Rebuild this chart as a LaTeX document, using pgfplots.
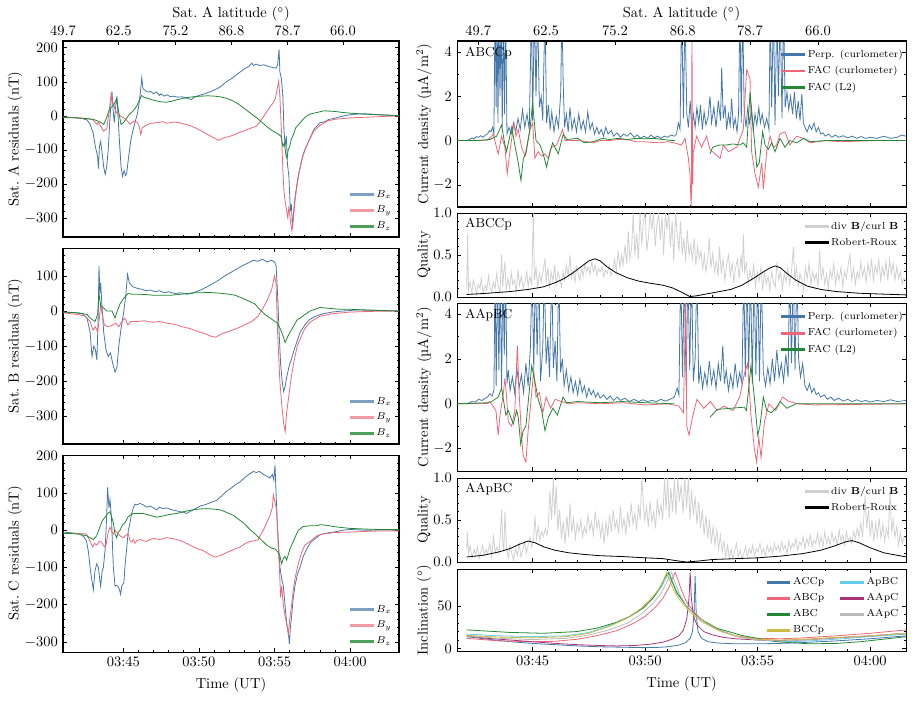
\documentclass[border=0pt]{standalone}
\usepackage{pgfplots}
\pgfplotsset{compat=1.18}
\definecolor{cB}{HTML}{4477AA}
\definecolor{cR}{HTML}{EE6677}
\definecolor{cG}{HTML}{228833}
\definecolor{cY}{HTML}{CCBB44}
\definecolor{cC}{HTML}{66CCEE}
\definecolor{cP}{HTML}{AA3377}
\definecolor{cK}{HTML}{BBBBBB}
\definecolor{cQ}{HTML}{D0D0D0}
\definecolor{lB}{HTML}{7C9FC4}
\definecolor{lR}{HTML}{F39AA4}
\definecolor{lG}{HTML}{4E9E5C}
\pgfplotsset{
 base/.style={scale only axis, anchor=north west, tick align=inside,
   major tick length=3pt, minor tick length=1.5pt,
   tick style={black, line width=0.45pt},
   axis line style={black, line width=0.7pt},
   unbounded coords=jump, minor x tick num=4,
   legend style={draw=none, fill=none, font=\scriptsize, row sep=0.6pt},
   legend cell align=left,
   every axis plot/.append style={line width=0.55pt, forget plot}},
 leftcol/.style={base, width=231.84pt, height=135.24pt, xmin=41.01, xmax=63.23,
   xtick={45,50,55,60}, xticklabels={03:45,03:50,03:55,04:00},
   ytick={-300,-200,-100,0,100,200}, minor y tick num=4,
   ylabel style={at={(axis description cs:-0.143,0.5)}, anchor=center},
   legend style={at={(1.0,0.0)}, anchor=south east}},
 rightcol/.style={base, width=309.81pt, xmin=41.64, xmax=61.59,
   xtick={45,50,55,60}, xticklabels={03:45,03:50,03:55,04:00},
   ylabel style={at={(axis description cs:-0.0735,0.5)}, anchor=center}},
 nox/.style={xticklabels={}},
 topax/.style={base, xtick pos=upper, xticklabel pos=upper, minor x tick num=0, ymin=0, ymax=1, hide y axis,
   xlabel={Sat.~A latitude (${}^\circ$)},
   xlabel style={at={(axis description cs:0.5,1)}, anchor=center, yshift=18.5pt}},
 cdax/.style={rightcol, ymin=-3, ymax=4.5, ytick={-2,0,2,4}, minor y tick num=1,
   ylabel={Current density (µA/m$^2$)},
   legend style={at={(1.01,0.985)}, anchor=north east}},
 qax/.style={rightcol, height=57.96pt, ymin=0, ymax=1, ytick={0,0.5,1}, minor y tick num=4,
   yticklabel style={/pgf/number format/.cd, fixed, fixed zerofill, precision=1},
   ylabel={Quality}, legend style={at={(1.0,0.97)}, anchor=north east}},
}
\newcommand{\limg}[1]{\addlegendimage{legend image code/.code={\fill[#1] (0cm,-0.65pt) rectangle (0.55cm,0.65pt);}}}
\newcommand{\leftlegend}{%
  \limg{lB}\addlegendentry{$B_x$}
  \limg{lR}\addlegendentry{$B_y$}
  \limg{lG}\addlegendentry{$B_z$}}
\newcommand{\cdlegend}{%
  \limg{cB}\addlegendentry{Perp. (curlometer)}
  \limg{cR}\addlegendentry{FAC (curlometer)}
  \limg{cG}\addlegendentry{FAC (L2)}}
\newcommand{\qlegend}{%
  \limg{cQ}\addlegendentry{div $\mathbf{B}$/curl $\mathbf{B}$}
  \limg{black}\addlegendentry{Robert-Roux}}
\begin{document}
\begin{tikzpicture}
\path[use as bounding box] (0pt,0pt) rectangle (630.66pt,-493.35pt);

% ---------------- Panel A ----------------
\begin{axis}[leftcol, nox, xtick pos=lower, at={(43.47pt,-28.29pt)}, ymin=-356, ymax=220,
  ylabel={Sat.~A residuals (nT)}]
\addplot[cB] coordinates {(41.01,-3) (41.5,-4) (42.0,-6) (42.3,-8) (42.6,-12) (42.8,-25) (43.0,-50) (43.15,-90) (43.3,-120) (43.35,-155) (43.42,-90) (43.5,-75) (43.6,-110) (43.7,-150) (43.8,-172) (43.9,-150) (44.0,-100) (44.1,-20) (44.2,50) (44.25,72) (44.32,20) (44.4,-20) (44.5,30) (44.58,58) (44.65,0) (44.75,-80) (44.85,-150) (44.95,-178) (45.05,-160) (45.15,-175) (45.22,-170) (45.35,-120) (45.5,-70) (45.65,-40) (45.8,-15) (45.95,10) (46.05,40) (46.15,80) (46.22,112) (46.3,80) (46.45,75) (46.6,70) (46.8,72) (47.0,65) (47.2,70) (47.4,60) (47.5,65) (47.7,58) (47.9,62) (48.1,56) (48.3,58) (48.6,55) (48.9,56) (49.2,52) (49.5,48) (49.7,55) (50.0,60) (50.4,65) (50.8,72) (51.2,80) (51.5,88) (51.8,100) (52.1,108) (52.4,118) (52.7,128) (53.0,138) (53.3,145) (53.5,155) (53.6,148) (53.8,152) (54.0,148) (54.3,150) (54.6,145) (54.9,142) (55.1,140) (55.2,150) (55.3,195) (55.35,130) (55.45,110) (55.55,60) (55.62,-40) (55.7,-90) (55.78,-60) (55.85,-140) (55.95,-180) (56.05,-280) (56.12,-260) (56.18,-330) (56.25,-290) (56.35,-240) (56.45,-210) (56.55,-180) (56.7,-150) (56.85,-120) (57.0,-100) (57.2,-80) (57.4,-60) (57.6,-40) (57.8,-30) (58.0,-20) (58.3,-18) (58.6,-10) (58.9,-8) (59.3,-3) (59.8,2) (60.3,5) (61.0,6) (61.8,4) (62.5,2) (63.23,0)};
\addplot[cR] coordinates {(41.01,-4) (42.0,-6) (42.6,-8) (43.0,-12) (43.25,-25) (43.35,-18) (43.5,-30) (43.7,-45) (43.9,-38) (44.05,10) (44.2,65) (44.3,40) (44.45,20) (44.6,5) (44.8,0) (45.0,-5) (45.2,-12) (45.45,-25) (45.7,-15) (45.9,-18) (46.05,-30) (46.15,-55) (46.25,-35) (46.5,-28) (46.8,-22) (47.2,-20) (47.6,-17) (47.9,-22) (48.3,-18) (48.7,-20) (49.1,-25) (49.5,-30) (49.9,-38) (50.3,-48) (50.7,-58) (51.0,-65) (51.3,-72) (51.6,-65) (51.9,-62) (52.3,-56) (52.7,-48) (53.1,-42) (53.5,-35) (53.8,-30) (54.0,-20) (54.3,0) (54.6,20) (54.85,35) (55.05,50) (55.2,85) (55.27,102) (55.35,60) (55.45,-40) (55.55,-160) (55.62,-220) (55.7,-250) (55.8,-280) (55.88,-300) (55.95,-265) (56.05,-310) (56.15,-338) (56.25,-300) (56.35,-250) (56.5,-200) (56.65,-160) (56.8,-130) (57.0,-100) (57.3,-70) (57.6,-45) (58.0,-28) (58.5,-15) (59.0,-10) (60.0,-6) (61.0,-4) (62.0,-2) (63.23,0)};
\addplot[cG] coordinates {(41.01,-5) (42.0,-6) (42.6,-8) (43.0,-10) (43.3,-15) (43.55,-20) (43.7,-25) (43.85,-10) (44.05,15) (44.2,25) (44.35,30) (44.55,50) (44.7,10) (44.85,-25) (45.0,-20) (45.2,-8) (45.4,5) (45.55,10) (45.75,20) (45.9,30) (46.05,45) (46.2,60) (46.35,55) (46.6,52) (47.0,46) (47.4,42) (47.8,40) (48.2,43) (48.6,48) (49.0,52) (49.4,55) (49.8,57) (50.2,58) (50.6,59) (51.0,58) (51.4,56) (51.8,52) (52.2,45) (52.6,35) (53.0,22) (53.4,8) (53.8,-5) (54.2,-20) (54.5,-32) (54.8,-42) (55.1,-50) (55.3,-55) (55.45,-62) (55.55,-90) (55.65,-80) (55.75,-115) (55.82,-125) (55.9,-100) (56.0,-90) (56.1,-70) (56.25,-55) (56.4,-35) (56.6,-25) (56.8,-15) (57.0,-5) (57.3,5) (57.6,8) (58.0,12) (58.3,15) (58.6,14) (59.0,13) (59.5,10) (60.0,8) (61.0,5) (62.0,3) (63.23,1)};
\leftlegend
\end{axis}
\begin{axis}[topax, width=231.84pt, height=135.24pt, at={(43.47pt,-28.29pt)}, xmin=41.01, xmax=63.23,
  xtick={41.01,44.69,48.45,52.16,55.85,59.52}, xticklabels={49.7,62.5,75.2,86.8,78.7,66.0}]
\addplot[draw=none] coordinates {(45,0.5) (50,0.5)};
\end{axis}

% ---------------- Panel B ----------------
\begin{axis}[leftcol, nox, at={(43.47pt,-171.12pt)}, ymin=-380, ymax=180,
  ylabel={Sat.~B residuals (nT)}]
\addplot[cB] coordinates {(41.01,-3) (41.8,-5) (42.3,-8) (42.6,-20) (42.8,-60) (42.93,-130) (43.05,-100) (43.15,-110) (43.25,-140) (43.33,-30) (43.39,128) (43.45,50) (43.5,80) (43.58,20) (43.7,-60) (43.85,-110) (44.0,-130) (44.15,-120) (44.3,-150) (44.45,-175) (44.58,-160) (44.7,-100) (44.85,-50) (45.0,-10) (45.15,40) (45.28,105) (45.4,80) (45.6,70) (45.9,65) (46.2,62) (46.5,58) (46.8,60) (47.1,55) (47.4,58) (47.7,52) (48.0,55) (48.4,50) (48.8,52) (49.2,48) (49.5,50) (49.8,55) (50.1,60) (50.5,68) (50.9,78) (51.3,88) (51.7,100) (52.1,110) (52.5,120) (52.9,130) (53.3,138) (53.6,145) (53.9,142) (54.2,148) (54.5,140) (54.8,145) (55.0,140) (55.1,130) (55.2,50) (55.3,-60) (55.4,-150) (55.5,-200) (55.6,-230) (55.7,-215) (55.8,-190) (55.95,-160) (56.1,-140) (56.3,-110) (56.5,-85) (56.7,-60) (57.0,-40) (57.3,-25) (57.7,-15) (58.2,-8) (58.8,-3) (59.5,0) (60.5,3) (61.5,2) (63.23,0)};
\addplot[cR] coordinates {(41.01,-5) (42.0,-10) (42.5,-15) (42.8,-30) (43.0,-55) (43.15,-45) (43.3,-60) (43.42,-20) (43.5,20) (43.6,-10) (43.75,-40) (44.0,-45) (44.3,-40) (44.5,-35) (44.7,-45) (44.9,-30) (45.1,-20) (45.3,-40) (45.5,-30) (45.9,-30) (46.4,-28) (46.9,-32) (47.4,-30) (47.9,-35) (48.4,-38) (48.9,-45) (49.4,-50) (49.9,-58) (50.4,-65) (50.8,-72) (51.1,-75) (51.5,-65) (52.0,-58) (52.5,-50) (53.0,-40) (53.5,-30) (53.9,-15) (54.2,5) (54.5,30) (54.8,60) (55.0,100) (55.1,80) (55.2,-60) (55.35,-200) (55.5,-280) (55.6,-320) (55.7,-345) (55.8,-290) (55.95,-240) (56.1,-190) (56.3,-140) (56.5,-100) (56.8,-70) (57.0,-50) (57.4,-30) (58.0,-15) (58.8,-8) (60.0,-3) (61.5,-1) (63.23,0)};
\addplot[cG] coordinates {(41.01,-3) (42.0,-5) (42.6,-10) (42.8,-20) (43.13,-30) (43.3,-10) (43.39,50) (43.5,15) (43.66,10) (43.9,0) (44.25,0) (44.45,-20) (44.6,0) (44.78,20) (45.0,35) (45.31,50) (45.6,48) (46.0,48) (46.5,47) (47.0,45) (47.5,45) (48.1,45) (48.6,47) (49.2,50) (49.7,52) (50.1,52) (50.6,53) (51.06,52) (51.6,50) (52.0,48) (52.39,45) (52.8,38) (53.3,28) (53.71,20) (54.0,5) (54.37,-10) (54.7,-20) (55.03,-30) (55.2,-35) (55.37,-50) (55.55,-70) (55.7,-90) (55.85,-75) (56.03,-60) (56.3,-40) (56.5,-25) (56.7,-20) (57.0,-10) (57.35,0) (58.0,10) (58.5,8) (59.3,5) (60.0,5) (61.0,3) (63.23,0)};
\leftlegend
\end{axis}

% ---------------- Panel C ----------------
\begin{axis}[leftcol, at={(43.47pt,-313.95pt)}, height=135.93pt, ymin=-327, ymax=202,
  ylabel={Sat.~C residuals (nT)}, xlabel={Time (UT)}]
\addplot[cB] coordinates {(41.03,-5) (41.8,-8) (42.13,-10) (42.4,-18) (42.57,-30) (42.7,-60) (42.8,-100) (42.9,-130) (43.02,-160) (43.12,-110) (43.24,-90) (43.35,-100) (43.45,-135) (43.5,-150) (43.6,-110) (43.68,-100) (43.8,-50) (43.9,40) (43.96,115) (44.05,60) (44.12,82) (44.2,40) (44.23,20) (44.3,-60) (44.34,-100) (44.45,-150) (44.56,-148) (44.67,-152) (44.75,-160) (44.82,-172) (44.9,-150) (45.04,-140) (45.12,-90) (45.22,-50) (45.33,0) (45.44,20) (45.55,45) (45.66,60) (45.77,70) (45.88,68) (46.1,72) (46.32,68) (46.54,62) (46.76,65) (47.0,60) (47.2,55) (47.4,62) (47.6,58) (47.87,60) (48.2,55) (48.53,52) (48.75,50) (49.0,48) (49.19,45) (49.4,50) (49.63,55) (49.85,60) (50.1,65) (50.51,70) (50.8,75) (51.17,80) (51.5,92) (51.83,105) (52.1,112) (52.4,122) (52.72,130) (53.0,140) (53.3,150) (53.6,158) (53.8,155) (54.0,158) (54.26,150) (54.5,145) (54.7,140) (54.85,150) (54.95,135) (55.03,175) (55.1,100) (55.18,20) (55.25,-30) (55.36,-100) (55.47,-130) (55.58,-150) (55.69,-200) (55.8,-250) (55.9,-270) (55.98,-305) (56.05,-260) (56.13,-230) (56.24,-180) (56.35,-150) (56.5,-120) (56.68,-100) (56.9,-70) (57.13,-50) (57.35,-35) (57.6,-25) (57.79,-20) (58.0,-12) (58.4,-8) (58.89,-5) (59.5,0) (60.0,2) (61.09,0) (62.0,1) (63.23,0)};
\addplot[cR] coordinates {(41.03,-8) (42.0,-9) (42.57,-10) (42.75,-25) (42.97,-45) (43.1,-35) (43.24,-40) (43.4,-30) (43.57,-32) (43.75,-45) (43.85,-40) (44.0,-5) (44.12,8) (44.25,-5) (44.34,-10) (44.45,0) (44.56,-5) (44.78,-15) (45.0,-20) (45.2,-12) (45.33,-10) (45.44,-28) (45.55,-32) (45.66,-25) (45.77,-35) (45.9,-28) (46.1,-25) (46.32,-28) (46.54,-30) (46.76,-25) (47.0,-22) (47.4,-25) (47.87,-20) (48.2,-22) (48.53,-25) (48.9,-30) (49.41,-40) (49.8,-48) (50.29,-55) (50.7,-65) (51.06,-72) (51.4,-68) (51.83,-60) (52.28,-52) (52.72,-45) (53.1,-35) (53.38,-30) (53.7,-28) (53.93,-25) (54.1,-10) (54.26,0) (54.48,20) (54.7,40) (54.85,60) (54.92,95) (55.03,75) (55.14,55) (55.25,-50) (55.32,-100) (55.4,-180) (55.47,-150) (55.58,-200) (55.69,-230) (55.8,-250) (55.91,-280) (56.0,-240) (56.13,-200) (56.24,-160) (56.35,-130) (56.57,-90) (56.79,-60) (57.0,-40) (57.35,-30) (57.8,-15) (58.23,-10) (59.0,-6) (59.99,-5) (61.09,-3) (62.0,-2) (63.23,-2)};
\addplot[cG] coordinates {(41.03,-8) (42.0,-10) (42.57,-15) (43.02,-25) (43.24,-15) (43.46,10) (43.6,25) (43.79,35) (43.96,45) (44.12,50) (44.23,35) (44.34,20) (44.45,-10) (44.56,-20) (44.67,-5) (44.78,0) (44.95,15) (45.11,20) (45.3,35) (45.44,40) (45.66,45) (46.0,45) (46.32,45) (46.76,40) (47.2,35) (47.6,38) (48.0,42) (48.53,45) (49.0,50) (49.63,55) (50.0,57) (50.51,58) (50.9,57) (51.39,55) (51.83,48) (52.28,40) (52.6,30) (52.94,20) (53.3,5) (53.71,-10) (54.1,-25) (54.48,-40) (54.8,-48) (55.03,-50) (55.25,-60) (55.36,-70) (55.47,-90) (55.58,-75) (55.69,-70) (55.8,-80) (56.02,-50) (56.24,-30) (56.4,-15) (56.57,0) (56.9,10) (57.35,12) (57.79,12) (58.0,15) (58.5,13) (58.89,10) (59.5,7) (59.99,5) (61.09,3) (62.0,2) (63.23,2)};
\leftlegend
\end{axis}

% ---------------- CD1 ----------------
\begin{axis}[cdax, nox, xtick pos=lower, at={(315.33pt,-28.29pt)}, height=114.54pt]
\addplot[cB] coordinates {(42.07,0) (42.2,0.05) (42.3,0.12) (42.4,0.08) (42.5,0.18) (42.6,0.15) (42.7,0.22) (42.8,0.15) (42.9,0.25) (43.0,0.3) (43.08,0.45) (43.15,0.4) (43.22,0.6) (43.28,0.3) (43.33,6) (43.38,1.5) (43.42,6) (43.46,0.8) (43.5,6) (43.55,2) (43.6,6) (43.65,0.6) (43.7,6) (43.75,1.2) (43.8,6) (43.86,0.3) (43.95,0.6) (44.05,0.3) (44.15,0.8) (44.25,0.4) (44.35,1.0) (44.45,0.5) (44.55,1.4) (44.65,0.6) (44.75,1.2) (44.85,0.5) (44.95,6) (45.0,0.9) (45.08,6) (45.15,2.0) (45.22,6) (45.3,1.5) (45.38,2.0) (45.45,0.9) (45.55,6) (45.62,0.8) (45.7,1.6) (45.78,0.5) (45.85,1.3) (45.95,0.4) (46.05,1.1) (46.15,0.6) (46.25,2.2) (46.3,6) (46.36,2.5) (46.42,0.6) (46.5,1.2) (46.58,0.4) (46.66,1.5) (46.75,0.5) (46.85,1.0) (46.95,0.4) (47.05,1.2) (47.15,0.5) (47.25,0.9) (47.35,0.4) (47.45,1.3) (47.55,0.5) (47.65,0.8) (47.75,0.3) (47.85,0.6) (47.95,0.3) (48.05,0.5) (48.15,0.2) (48.25,0.6) (48.35,0.3) (48.5,0.45) (48.6,0.2) (48.75,0.35) (48.9,0.15) (49.05,0.3) (49.2,0.2) (49.35,0.35) (49.5,0.15) (49.65,0.25) (49.8,0.1) (49.95,0.2) (50.1,0.1) (50.25,0.25) (50.4,0.12) (50.55,0.2) (50.7,0.1) (50.85,0.2) (51.0,0.15) (51.15,0.25) (51.3,0.2) (51.4,0.3) (51.47,0.8) (51.55,0.5) (51.62,6) (51.7,1.0) (51.77,6) (51.85,1.2) (51.92,0.6) (52.0,1.8) (52.07,0.5) (52.14,1.2) (52.22,0.6) (52.3,1.5) (52.38,0.8) (52.46,1.6) (52.54,0.5) (52.62,1.3) (52.7,0.7) (52.8,1.1) (52.88,2.0) (52.95,0.8) (53.05,1.5) (53.15,0.6) (53.25,1.8) (53.35,0.9) (53.4,3.3) (53.47,1.0) (53.55,1.6) (53.62,0.5) (53.7,1.2) (53.78,0.7) (53.84,1.9) (53.92,0.6) (54.0,1.0) (54.08,0.4) (54.15,1.2) (54.21,6) (54.27,0.8) (54.33,6) (54.4,1.4) (54.48,0.6) (54.56,1.5) (54.64,0.8) (54.72,1.3) (54.8,0.5) (54.88,1.2) (54.96,0.7) (55.05,1.5) (55.12,0.8) (55.2,1.2) (55.3,0.6) (55.4,1.0) (55.5,0.5) (55.56,6) (55.62,1.5) (55.7,6) (55.77,0.7) (55.85,6) (55.92,2.0) (56.0,6) (56.08,1.0) (56.15,6) (56.22,1.5) (56.3,2.2) (56.38,1.4) (56.46,2.0) (56.55,1.2) (56.63,2.2) (56.72,1.0) (56.8,1.8) (56.88,0.9) (56.96,2.1) (57.03,0.8) (57.1,0.6) (57.2,0.4) (57.3,0.7) (57.4,0.5) (57.5,0.8) (57.6,0.4) (57.7,0.6) (57.8,0.3) (57.9,0.35) (58.0,0.2) (58.15,0.3) (58.3,0.15) (58.45,0.25) (58.6,0.15) (58.8,0.22) (59.0,0.12) (59.2,0.2) (59.4,0.1) (59.6,0.18) (59.8,0.1) (60.0,0.15) (60.3,0.1) (60.6,0.2) (60.9,0.1) (61.2,0.15) (61.4,0.25) (61.59,0.2)};
\addplot[cR] coordinates {(41.64,0) (42.5,0) (43.0,0.02) (43.18,0.2) (43.25,0.3) (43.37,-0.2) (43.47,-0.6) (43.62,0.2) (43.77,-0.3) (43.87,-1.5) (43.99,-0.5) (44.17,0.8) (44.26,0.2) (44.36,0.5) (44.51,-0.3) (44.66,-0.7) (44.88,0.5) (45.0,0.8) (45.1,-0.8) (45.25,-0.5) (45.4,-0.7) (45.55,-0.6) (45.7,-0.8) (45.84,-0.3) (46.07,-0.2) (46.33,0.5) (46.44,0.0) (46.8,0.0) (47.1,0.0) (47.4,-0.05) (47.7,-0.1) (48.0,0.0) (48.44,0.0) (48.8,0.05) (49.18,0.05) (49.6,-0.05) (49.92,-0.05) (50.3,-0.08) (50.66,-0.1) (51.0,-0.05) (51.28,-0.1) (51.62,-0.2) (51.77,0.1) (51.92,-0.8) (51.99,-1.5) (52.05,-3.2) (52.08,4.8) (52.11,-2.0) (52.14,-0.5) (52.29,0.2) (52.5,-0.3) (52.73,0.2) (52.88,-0.4) (53.1,-0.6) (53.33,-0.8) (53.47,-0.2) (53.7,-0.5) (54.07,-0.3) (54.36,0.5) (54.51,3.2) (54.66,2.8) (54.73,-0.5) (54.88,-1.5) (55.03,-2.1) (55.18,-1.0) (55.25,-2.2) (55.4,-0.5) (55.55,0.2) (55.7,-0.3) (55.84,-0.2) (55.99,0.3) (56.21,0.4) (56.43,-0.2) (56.73,0.2) (57.03,0.1) (57.33,-0.1) (58.0,0.0) (58.7,-0.05) (60.2,0.0) (61.59,0)};
\addplot[cG] coordinates {(41.64,0) (42.5,0) (43.1,0.05) (43.4,0.2) (43.62,0.7) (43.77,-0.2) (43.84,-0.5) (44.07,0.6) (44.21,-0.2) (44.36,-1.0) (44.48,-1.8) (44.59,-0.8) (44.7,-0.6) (44.88,0.5) (45.0,1.7) (45.15,0.0) (45.33,-0.2) (45.47,-0.6) (45.62,-1.2) (45.77,-0.5) (45.89,-0.1) (45.99,-0.3) (46.14,-0.6) (46.36,0.3) (46.51,0.05) (47.0,0.1) (47.3,-0.1) (47.7,-0.05) (48.1,0.1) (48.4,0.05) (48.8,0.1) (49.2,0.05) (49.6,0.1) (50.0,0.08) (50.4,0.1) (50.8,0.05) (51.2,0.0) (51.33,0.0) (51.5,nan) (52.88,-0.6) (53.0,-0.3) (53.3,-0.2) (53.6,-0.2) (53.9,-0.15) (54.2,-0.2) (54.36,-0.1) (54.51,-0.3) (54.66,2.2) (54.81,0.5) (54.96,-1.2) (55.07,-1.0) (55.22,0.4) (55.33,-0.2) (55.47,-0.4) (55.62,-0.1) (55.77,-0.5) (55.99,0.1) (56.21,-0.3) (56.43,0.0) (56.73,-0.1) (57.03,0.1) (57.33,-0.05) (58.0,0.0) (61.59,0)};
\cdlegend
\node[anchor=north west, font=\small, inner sep=1pt] at (rel axis cs:0.015,0.975) {ABCCp};
\end{axis}
\begin{axis}[topax, width=309.81pt, height=114.54pt, at={(315.33pt,-28.29pt)}, xmin=41.64, xmax=61.59,
  xtick={42.58,45.59,48.66,51.67,54.66,57.68}, xticklabels={49.7,62.5,75.2,86.8,78.7,66.0}]
\addplot[draw=none] coordinates {(45,0.5) (50,0.5)};
\end{axis}

% ---------------- Q1 ----------------
\begin{axis}[qax, nox, at={(315.33pt,-146.97pt)}]
\addplot[cQ] coordinates {(42.07,0.1) (42.11,0.75) (42.15,0.08) (42.22,0.18) (42.3,0.04) (42.36,0.2) (42.45,0.12) (42.5,0.03) (42.58,0.15) (42.66,0.1) (42.72,0.22) (42.8,0.05) (42.9,0.14) (42.96,0.08) (43.04,0.25) (43.1,0.12) (43.18,0.06) (43.25,0.18) (43.33,0.1) (43.4,0.28) (43.48,0.12) (43.55,0.05) (43.62,0.5) (43.67,0.12) (43.72,0.3) (43.77,0.42) (43.82,0.08) (43.9,0.22) (43.98,0.1) (44.05,0.3) (44.12,0.15) (44.2,0.2) (44.27,0.06) (44.35,0.32) (44.42,0.14) (44.5,0.25) (44.58,0.1) (44.66,0.18) (44.74,0.3) (44.8,0.12) (44.88,0.24) (44.96,0.15) (45.03,1.0) (45.08,0.2) (45.15,0.35) (45.22,0.12) (45.3,0.28) (45.38,0.18) (45.46,0.3) (45.55,0.46) (45.6,0.18) (45.68,0.35) (45.75,0.1) (45.82,0.3) (45.9,0.2) (45.98,0.38) (46.05,0.15) (46.12,0.3) (46.2,0.22) (46.28,0.12) (46.35,0.3) (46.42,0.2) (46.5,0.38) (46.58,0.25) (46.66,0.5) (46.72,0.22) (46.8,0.32) (46.88,0.18) (46.95,0.36) (47.02,0.28) (47.1,0.2) (47.18,0.34) (47.25,0.25) (47.33,0.4) (47.4,0.3) (47.48,0.36) (47.55,0.27) (47.63,0.42) (47.7,0.3) (47.78,0.38) (47.85,0.26) (47.92,0.34) (48.0,0.3) (48.08,0.36) (48.16,0.24) (48.24,0.32) (48.32,0.28) (48.4,0.38) (48.48,0.25) (48.56,0.33) (48.64,0.45) (48.72,0.3) (48.8,0.55) (48.88,0.35) (48.95,0.5) (49.02,0.38) (49.1,0.62) (49.18,0.4) (49.25,0.78) (49.32,0.45) (49.4,0.58) (49.47,1.0) (49.54,0.5) (49.62,0.75) (49.7,0.45) (49.77,1.0) (49.85,0.62) (49.92,0.9) (50.0,1.0) (50.07,0.55) (50.15,0.72) (50.22,1.0) (50.3,0.8) (50.37,1.0) (50.45,0.6) (50.52,0.85) (50.6,1.0) (50.67,0.68) (50.75,0.95) (50.82,0.5) (50.9,1.0) (50.97,0.8) (51.05,1.0) (51.12,0.6) (51.2,0.9) (51.27,0.42) (51.35,1.0) (51.42,0.75) (51.5,0.55) (51.57,0.9) (51.65,0.5) (51.72,0.7) (51.8,0.42) (51.87,0.8) (51.95,0.5) (52.02,0.62) (52.1,0.45) (52.18,0.7) (52.25,0.38) (52.33,0.6) (52.4,0.45) (52.48,0.55) (52.55,0.32) (52.63,0.5) (52.7,0.3) (52.78,0.45) (52.85,0.7) (52.92,0.35) (53.0,0.52) (53.08,0.3) (53.16,0.42) (53.24,0.25) (53.3,0.6) (53.38,0.28) (53.46,0.45) (53.54,0.2) (53.62,0.38) (53.7,0.5) (53.78,0.25) (53.86,0.4) (53.94,0.18) (54.02,0.35) (54.1,0.45) (54.18,0.22) (54.26,0.5) (54.32,0.3) (54.36,0.75) (54.42,0.3) (54.5,0.4) (54.58,0.15) (54.66,0.32) (54.74,0.2) (54.82,0.38) (54.9,0.12) (54.98,0.3) (55.06,0.18) (55.14,0.35) (55.22,0.08) (55.3,0.3) (55.38,0.15) (55.46,0.25) (55.54,0.08) (55.62,0.3) (55.7,0.18) (55.78,0.12) (55.86,0.42) (55.94,0.2) (56.02,0.3) (56.1,0.1) (56.18,0.28) (56.26,0.18) (56.34,0.35) (56.42,0.15) (56.5,0.3) (56.59,0.6) (56.65,0.18) (56.72,0.35) (56.8,0.12) (56.88,0.28) (56.96,0.2) (57.04,0.08) (57.12,0.35) (57.2,0.22) (57.28,0.4) (57.36,0.15) (57.44,0.3) (57.52,0.2) (57.6,0.28) (57.68,0.12) (57.75,0.55) (57.82,0.2) (57.9,0.35) (57.98,0.15) (58.06,0.28) (58.14,0.1) (58.22,0.32) (58.3,0.22) (58.38,0.4) (58.46,0.15) (58.54,0.3) (58.62,0.2) (58.7,0.35) (58.78,0.12) (58.86,0.3) (58.94,0.22) (59.02,0.38) (59.1,0.5) (59.18,0.2) (59.26,0.35) (59.34,0.15) (59.42,0.3) (59.5,0.22) (59.58,0.42) (59.66,0.25) (59.74,0.35) (59.82,0.18) (59.9,0.4) (59.98,0.25) (60.06,0.45) (60.14,0.2) (60.22,0.38) (60.3,0.28) (60.38,0.45) (60.46,0.2) (60.54,0.36) (60.62,0.25) (60.7,0.42) (60.78,0.2) (60.86,0.45) (60.94,0.28) (61.02,0.4) (61.1,0.2) (61.18,0.36) (61.26,0.22) (61.34,0.3) (61.42,0.15) (61.5,0.22) (61.62,0.18)};
\addplot[black] coordinates {(42.07,0.03) (43.0,0.045) (44.0,0.065) (44.8,0.09) (45.47,0.12) (46.0,0.17) (46.4,0.22) (46.8,0.29) (47.2,0.37) (47.5,0.43) (47.77,0.455) (48.0,0.43) (48.3,0.36) (48.7,0.29) (49.2,0.23) (49.7,0.19) (50.2,0.165) (50.8,0.14) (51.2,0.11) (51.6,0.06) (51.99,0.005) (52.3,0.015) (52.8,0.04) (53.3,0.065) (53.8,0.09) (54.3,0.14) (54.8,0.22) (55.2,0.29) (55.5,0.34) (55.77,0.37) (56.0,0.35) (56.3,0.28) (56.7,0.2) (57.2,0.13) (57.8,0.09) (58.5,0.065) (59.5,0.045) (60.5,0.035) (61.62,0.025)};
\qlegend
\node[anchor=north west, font=\small, inner sep=1pt] at (rel axis cs:0.015,0.96) {ABCCp};
\end{axis}

% ---------------- CD2 ----------------
\begin{axis}[cdax, nox, at={(315.33pt,-209.07pt)}, height=115.92pt]
\addplot[cB] coordinates {(42.07,0) (42.2,0.05) (42.3,0.1) (42.45,0.08) (42.6,0.2) (42.75,0.15) (42.9,0.25) (43.0,0.3) (43.1,0.45) (43.2,0.35) (43.28,0.6) (43.33,6) (43.38,0.8) (43.44,6) (43.5,1.5) (43.56,6) (43.62,0.7) (43.68,6) (43.74,2.2) (43.8,6) (43.86,0.9) (43.92,1.5) (44.0,0.6) (44.1,1.2) (44.2,0.5) (44.3,1.6) (44.4,0.7) (44.5,1.3) (44.6,0.5) (44.7,1.8) (44.8,0.8) (44.9,2.5) (44.98,6) (45.05,1.5) (45.12,6) (45.2,2.2) (45.28,6) (45.35,1.0) (45.45,2.5) (45.52,6) (45.6,1.8) (45.68,3.0) (45.75,1.2) (45.85,6) (45.92,1.6) (46.0,2.8) (46.08,1.0) (46.16,6) (46.24,1.4) (46.32,2.0) (46.4,0.8) (46.5,1.5) (46.6,0.6) (46.7,1.2) (46.8,0.5) (46.9,1.0) (47.0,0.4) (47.1,1.1) (47.2,0.5) (47.3,0.8) (47.4,0.3) (47.5,0.7) (47.6,0.4) (47.7,0.6) (47.8,0.3) (47.9,0.5) (48.0,0.25) (48.15,0.4) (48.3,0.2) (48.45,0.35) (48.6,0.15) (48.75,0.3) (48.9,0.15) (49.1,0.25) (49.3,0.1) (49.5,0.2) (49.7,0.1) (49.9,0.18) (50.1,0.1) (50.3,0.15) (50.5,0.1) (50.7,0.2) (50.9,0.12) (51.1,0.2) (51.3,0.3) (51.42,0.7) (51.5,0.4) (51.58,6) (51.66,1.2) (51.74,6) (51.82,0.8) (51.9,6) (51.98,1.5) (52.06,6) (52.14,1.0) (52.22,2.0) (52.3,6) (52.38,0.9) (52.46,1.6) (52.55,0.7) (52.65,1.4) (52.75,0.8) (52.85,1.9) (52.95,0.9) (53.05,1.5) (53.15,0.7) (53.25,1.8) (53.35,1.0) (53.45,2.6) (53.52,0.9) (53.6,1.5) (53.7,0.6) (53.8,1.3) (53.9,0.7) (54.0,1.8) (54.1,0.8) (54.2,1.4) (54.3,0.9) (54.38,6) (54.45,1.2) (54.52,6) (54.6,1.5) (54.68,6) (54.76,0.9) (54.84,6) (54.92,1.3) (55.0,6) (55.08,1.0) (55.16,6) (55.25,1.4) (55.35,0.8) (55.45,1.6) (55.55,0.9) (55.65,2.0) (55.75,1.0) (55.85,2.4) (55.95,1.2) (56.05,1.8) (56.15,1.0) (56.25,2.2) (56.35,1.2) (56.42,6) (56.5,1.8) (56.58,6) (56.66,1.5) (56.74,6) (56.82,2.0) (56.9,1.2) (57.0,1.8) (57.1,0.8) (57.2,0.6) (57.3,0.9) (57.4,0.5) (57.5,0.7) (57.6,0.4) (57.7,0.5) (57.8,0.3) (57.95,0.4) (58.1,0.2) (58.25,0.3) (58.4,0.15) (58.6,0.25) (58.8,0.12) (59.0,0.2) (59.2,0.1) (59.4,0.18) (59.6,0.1) (59.8,0.15) (60.0,0.08) (60.3,0.15) (60.6,0.1) (60.9,0.18) (61.2,0.1) (61.59,0.15)};
\addplot[cR] coordinates {(41.64,0) (43.0,0.02) (43.1,0.1) (43.37,-0.3) (43.47,-1.4) (43.55,-0.5) (43.69,0.4) (43.77,1.15) (43.85,0.2) (43.92,-0.8) (44.07,-1.0) (44.21,-0.3) (44.32,2.6) (44.4,0.5) (44.51,-1.5) (44.58,-2.3) (44.7,-2.6) (44.8,-1.2) (44.96,0.5) (45.05,1.5) (45.15,0.3) (45.3,0.5) (45.45,-0.4) (45.6,0.3) (45.8,-0.2) (46.0,0.2) (46.3,0.1) (46.6,0.0) (47.0,0.05) (48,0) (49,0.05) (50,-0.05) (51,0.0) (51.5,-0.1) (51.7,-0.4) (51.8,4.8) (51.85,-1.0) (51.95,-1.4) (52.1,-0.6) (52.3,0.2) (52.6,-0.2) (52.9,0.1) (53.2,-0.3) (53.5,-0.1) (53.9,-0.3) (54.2,0.3) (54.4,1.3) (54.55,1.8) (54.7,-0.5) (54.85,-2.0) (54.95,-2.6) (55.05,-1.5) (55.15,-2.4) (55.3,-0.8) (55.5,0.0) (55.8,-0.3) (56.1,0.3) (56.4,0.1) (56.8,0.0) (57.5,-0.05) (61.59,0)};
\addplot[cG] coordinates {(41.64,0) (43.1,0.05) (43.47,0.3) (43.62,0.7) (43.81,-0.5) (43.92,-0.3) (44.14,-0.9) (44.29,-0.3) (44.36,-0.6) (44.47,-1.8) (44.58,-1.2) (44.7,-1.0) (44.96,1.7) (45.1,1.0) (45.25,0.2) (45.4,-0.3) (45.55,-1.2) (45.7,-0.6) (45.9,-0.2) (46.1,-0.5) (46.35,0.3) (46.5,0.05) (47,0.1) (48,0.05) (49,0.1) (50,0.05) (51.3,0.0) (51.5,nan) (52.88,-0.6) (53.2,-0.25) (53.8,-0.2) (54.4,-0.15) (54.5,-0.3) (54.7,1.7) (54.85,0.3) (55.0,-1.4) (55.1,-1.0) (55.25,0.3) (55.4,-0.3) (55.6,-0.4) (55.8,-0.2) (56.0,0.1) (56.3,-0.2) (56.7,0.0) (61.59,0)};
\cdlegend
\node[anchor=north west, font=\small, inner sep=1pt] at (rel axis cs:0.015,0.975) {AApBC};
\end{axis}

% ---------------- Q2 ----------------
\begin{axis}[qax, nox, at={(315.33pt,-329.82pt)}]
\addplot[cQ] coordinates {(42.07,0.15) (42.1,0.35) (42.15,0.1) (42.22,0.2) (42.3,0.05) (42.4,0.15) (42.46,0.08) (42.55,0.18) (42.62,0.04) (42.7,0.12) (42.78,0.2) (42.86,0.08) (42.93,0.15) (43.0,0.1) (43.1,0.22) (43.18,0.06) (43.26,0.3) (43.34,0.12) (43.42,0.18) (43.5,0.1) (43.56,0.3) (43.62,0.62) (43.68,0.2) (43.72,0.12) (43.77,0.6) (43.84,0.15) (43.92,0.05) (44.0,0.2) (44.08,0.1) (44.15,0.02) (44.24,0.16) (44.32,0.08) (44.4,0.22) (44.48,0.06) (44.56,0.14) (44.64,0.24) (44.72,0.1) (44.8,0.2) (44.88,0.3) (44.96,0.18) (45.04,0.26) (45.1,0.55) (45.17,0.28) (45.25,0.42) (45.32,0.26) (45.4,0.36) (45.48,0.3) (45.56,0.4) (45.64,0.32) (45.7,0.45) (45.77,0.85) (45.84,0.5) (45.92,1.0) (45.98,0.55) (46.05,0.9) (46.12,0.38) (46.2,0.62) (46.28,0.28) (46.36,0.48) (46.44,0.22) (46.52,0.55) (46.6,0.3) (46.66,0.7) (46.74,0.35) (46.82,0.52) (46.9,0.28) (46.98,0.46) (47.06,0.36) (47.14,0.5) (47.22,0.3) (47.3,0.42) (47.38,0.34) (47.46,0.56) (47.54,0.38) (47.62,0.48) (47.7,0.32) (47.78,0.6) (47.86,0.4) (47.94,0.5) (48.02,0.3) (48.1,0.45) (48.18,0.22) (48.26,0.48) (48.34,0.32) (48.42,0.56) (48.5,0.36) (48.58,0.62) (48.66,0.4) (48.74,0.5) (48.82,0.34) (48.9,0.66) (48.98,0.4) (49.06,0.52) (49.14,0.32) (49.22,0.6) (49.3,0.42) (49.38,0.7) (49.46,0.45) (49.54,0.58) (49.62,0.38) (49.7,0.68) (49.78,0.5) (49.85,1.0) (49.92,0.7) (49.98,0.5) (50.06,0.66) (50.14,0.42) (50.22,0.72) (50.3,0.48) (50.38,0.6) (50.46,0.4) (50.54,0.75) (50.62,0.55) (50.7,0.68) (50.78,0.5) (50.86,1.0) (50.93,0.62) (51.0,1.0) (51.07,0.52) (51.14,0.88) (51.22,0.6) (51.3,1.0) (51.37,0.56) (51.45,1.0) (51.52,0.72) (51.6,0.92) (51.68,0.58) (51.76,1.0) (51.84,0.64) (51.92,1.0) (51.99,0.5) (52.06,0.85) (52.14,0.56) (52.22,0.78) (52.3,0.45) (52.38,0.72) (52.46,0.4) (52.54,0.62) (52.62,0.32) (52.7,0.55) (52.78,0.28) (52.86,0.5) (52.94,0.22) (53.02,0.42) (53.1,0.2) (53.18,0.38) (53.26,0.15) (53.34,0.32) (53.42,0.12) (53.5,0.25) (53.58,0.06) (53.66,0.2) (53.74,0.05) (53.82,0.15) (53.9,0.03) (53.98,0.14) (54.06,0.22) (54.14,0.06) (54.22,0.14) (54.3,0.04) (54.38,0.1) (54.46,0.18) (54.54,0.06) (54.62,0.16) (54.7,0.1) (54.78,0.2) (54.86,0.08) (54.94,0.16) (55.02,0.12) (55.1,0.22) (55.18,0.1) (55.26,0.16) (55.34,0.08) (55.42,0.2) (55.5,0.12) (55.58,0.18) (55.66,0.1) (55.74,0.22) (55.82,0.14) (55.9,0.2) (55.98,0.12) (56.06,0.24) (56.14,0.15) (56.22,0.2) (56.3,0.1) (56.38,0.25) (56.46,0.15) (56.54,0.22) (56.62,0.18) (56.7,0.28) (56.78,0.14) (56.86,0.24) (56.94,0.2) (57.02,0.3) (57.1,0.16) (57.18,0.28) (57.26,0.2) (57.34,0.32) (57.42,0.18) (57.5,0.26) (57.58,0.22) (57.66,0.34) (57.74,0.2) (57.82,0.3) (57.9,0.18) (57.98,0.36) (58.06,0.22) (58.14,0.3) (58.22,0.2) (58.3,0.35) (58.38,0.24) (58.46,0.3) (58.54,0.2) (58.62,0.38) (58.7,0.25) (58.78,0.32) (58.86,0.2) (58.94,0.36) (59.02,0.26) (59.1,0.3) (59.18,0.22) (59.26,0.36) (59.34,0.28) (59.42,0.4) (59.5,0.3) (59.58,0.46) (59.66,0.3) (59.72,0.55) (59.77,0.8) (59.84,0.4) (59.92,0.62) (60.0,0.3) (60.08,0.5) (60.16,0.25) (60.24,0.46) (60.32,0.3) (60.4,0.52) (60.48,0.28) (60.56,0.45) (60.64,0.25) (60.72,0.4) (60.8,0.3) (60.88,0.85) (60.95,0.35) (61.02,0.5) (61.1,0.3) (61.18,0.42) (61.26,0.2) (61.34,0.35) (61.42,0.22) (61.5,0.3) (61.62,0.28)};
\addplot[black] coordinates {(42.07,0.06) (42.8,0.08) (43.5,0.12) (44.0,0.16) (44.4,0.21) (44.8,0.25) (45.1,0.23) (45.5,0.18) (46.0,0.14) (46.6,0.11) (47.3,0.09) (48.0,0.075) (49.0,0.065) (50.0,0.05) (50.8,0.04) (51.4,0.015) (51.84,0.0) (52.3,0.01) (53.0,0.03) (54.0,0.04) (55.0,0.05) (56.0,0.07) (57.0,0.1) (57.8,0.14) (58.4,0.19) (58.9,0.24) (59.18,0.255) (59.5,0.23) (60.0,0.17) (60.6,0.11) (61.2,0.08) (61.62,0.06)};
\qlegend
\node[anchor=north west, font=\small, inner sep=1pt] at (rel axis cs:0.015,0.96) {AApBC};
\end{axis}

% ---------------- Inclination ----------------
\begin{axis}[rightcol, at={(315.33pt,-392.61pt)}, height=56.58pt, ymin=-3, ymax=94,
  ytick={0,50}, minor y tick num=4, ylabel={Inclination (${}^\circ$)}, xlabel={Time (UT)},
  legend columns=2, legend style={at={(1.0,0.97)}, anchor=north east, /tikz/every even column/.append style={column sep=9pt}}]
\addplot[cB] coordinates {(42.07,14) (43.0,11) (44.0,8) (45.0,6) (46.0,4.5) (47.0,3) (48.0,2) (49.0,1.5) (49.9,1) (50.5,1.2) (51.0,2) (51.5,4) (51.8,7) (52.0,12) (52.1,20) (52.17,40) (52.22,86) (52.27,40) (52.35,20) (52.5,12) (52.8,8) (53.2,6.5) (54.0,5.5) (55.0,5.5) (56.0,6) (57.0,7) (58.5,9) (60.0,11.5) (61.62,15)};
\addplot[cC] coordinates {(42.07,17) (43.5,15) (45.0,14) (46.5,15) (47.5,19) (48.4,27) (49.2,36) (49.8,46) (50.3,58) (50.7,72) (50.95,84) (51.08,90) (51.2,80) (51.4,68) (51.7,55) (52.1,43) (52.6,32) (53.3,22) (54.0,15) (55.0,10) (56.0,8) (57.0,8.5) (58.5,11) (60.0,14) (61.62,17)};
\addplot[cR] coordinates {(42.07,12) (43.5,9) (45.0,8) (46.0,8.5) (47.0,11) (47.84,15) (48.73,21) (49.5,30) (50.0,38) (50.5,50) (50.8,60) (51.05,72) (51.2,82) (51.33,90) (51.45,82) (51.6,70) (51.84,55) (52.2,42) (52.7,30) (53.3,21) (54.0,15) (55.0,12) (56.0,11.5) (57.0,12.5) (58.5,15) (60.0,18) (61.62,22)};
\addplot[cP] coordinates {(42.07,15) (43.0,12) (44.0,10) (45.0,8) (46.0,6) (47.0,4.5) (48.0,3.5) (48.73,3) (49.5,3.5) (50.2,5) (50.8,7.5) (51.2,11) (51.5,15) (51.7,22) (51.85,35) (51.95,60) (52.0,90) (52.05,60) (52.15,38) (52.3,28) (52.6,20) (53.0,16) (53.5,13) (54.0,11.5) (55.0,10) (56.0,9.5) (57.0,10) (58.5,12.5) (60.0,15) (61.62,18)};
\addplot[cG] coordinates {(42.07,22) (43.99,19) (45.47,18) (46.96,20) (47.84,24) (48.73,31) (49.33,38) (49.92,48) (50.36,60) (50.66,72) (50.88,84) (51.03,90) (51.18,80) (51.4,66) (51.84,50) (52.44,35) (53.18,24) (54.36,15) (55.84,8) (57.33,5.5) (58.51,6) (59.55,8) (60.59,11) (61.62,14)};
\addplot[cK] coordinates {(42.07,15) (43.5,12) (45.0,10.5) (46.5,12) (47.5,16) (48.4,22) (49.2,30) (49.8,40) (50.3,52) (50.7,65) (50.95,78) (51.1,86) (51.18,90) (51.3,80) (51.5,66) (51.8,52) (52.2,40) (52.7,30) (53.4,20) (54.2,13) (55.0,10) (56.0,9) (57.0,10) (58.5,13) (60.0,15) (61.62,18)};
\addplot[cY] coordinates {(42.07,15.5) (43.5,13.5) (45.0,12.5) (46.5,14) (47.5,18) (48.4,26) (49.2,36) (49.8,47) (50.3,60) (50.6,70) (50.8,80) (50.96,90) (51.1,80) (51.3,67) (51.6,55) (52.0,43) (52.5,32) (53.2,22) (54.0,15) (55.0,11) (56.0,10) (57.0,11) (58.5,13) (60.0,15) (61.62,18)};
\limg{cB}\addlegendentry{ACCp}
\limg{cC}\addlegendentry{ApBC}
\limg{cR}\addlegendentry{ABCp}
\limg{cP}\addlegendentry{AApC}
\limg{cG}\addlegendentry{ABC}
\limg{cK}\addlegendentry{AApC}
\limg{cY}\addlegendentry{BCCp}
\end{axis}
\end{tikzpicture}
\end{document}
